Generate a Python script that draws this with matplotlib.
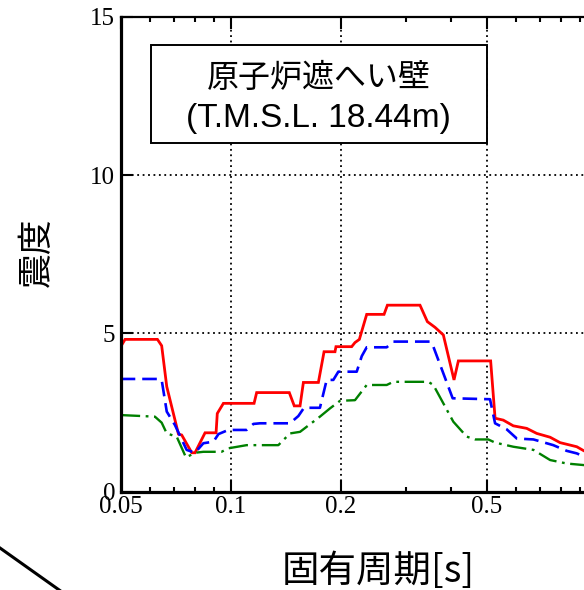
import matplotlib
matplotlib.use('Agg')
import matplotlib.pyplot as plt
from matplotlib.lines import Line2D
from matplotlib.patches import Rectangle
from matplotlib.ticker import FixedLocator, FixedFormatter, NullFormatter

plt.rcParams['lines.scale_dashes'] = False

# ---- data ----
period_red = [0.05, 0.0514, 0.0630, 0.0647, 0.0668, 0.0719, 0.0734, 0.0782, 0.0798, 0.0850,
              0.0911, 0.0918, 0.0954, 0.1157, 0.1176, 0.1444, 0.149, 0.1545, 0.1578, 0.1734,
              0.1797, 0.1925, 0.1937, 0.2138, 0.2183, 0.2244, 0.2350, 0.2621, 0.2677, 0.3286,
              0.3442, 0.3612, 0.3806, 0.4070, 0.4183, 0.5125, 0.527, 0.555, 0.591, 0.643,
              0.685, 0.745, 0.793, 0.881, 0.922, 1.0]
value_red = [4.58, 4.81, 4.81, 4.61, 3.32, 1.82, 1.79, 1.23, 1.23, 1.86,
             1.86, 2.47, 2.79, 2.79, 3.13, 3.13, 2.71, 2.71, 3.45, 3.45,
             4.42, 4.42, 4.58, 4.58, 4.71, 4.81, 5.60, 5.60, 5.89, 5.89,
             5.37, 5.19, 4.95, 3.53, 4.13, 4.13, 2.32, 2.26, 2.08, 2.00,
             1.84, 1.72, 1.55, 1.42, 1.29, 1.22]

period_blue = [0.05, 0.0630, 0.0647, 0.0668, 0.0703, 0.0757, 0.0798, 0.0841, 0.0896, 0.0925,
               0.0984, 0.1104, 0.1152, 0.1201, 0.1450, 0.1529, 0.1584, 0.1751, 0.1827, 0.1905,
               0.1966, 0.2207, 0.2278, 0.2350, 0.2665, 0.2779, 0.350, 0.3574, 0.4036, 0.5104,
               0.527, 0.567, 0.604, 0.671, 0.760, 0.827, 0.881, 0.922, 1.0]
value_blue = [3.56, 3.56, 3.53, 2.53, 2.11, 1.32, 1.23, 1.53, 1.58, 1.82,
              1.95, 1.95, 2.14, 2.16, 2.16, 2.39, 2.65, 2.65, 3.53, 3.53,
              3.79, 3.79, 4.28, 4.56, 4.56, 4.74, 4.74, 4.58, 2.95, 2.92,
              2.16, 1.97, 1.68, 1.65, 1.47, 1.29, 1.21, 1.11, 1.05]

period_green = [0.05, 0.0620, 0.0647, 0.0668, 0.0711, 0.0754, 0.0798, 0.0841, 0.0943, 0.0984,
                0.1104, 0.1348, 0.1450, 0.1545, 0.1751, 0.1865, 0.1987, 0.2183, 0.2350, 0.2665,
                0.2779, 0.3463, 0.3574, 0.4053, 0.4408, 0.4646, 0.505, 0.527, 0.591, 0.671,
                0.745, 0.827, 0.922, 1.0]
value_green = [2.42, 2.37, 2.18, 1.84, 1.74, 1.08, 1.23, 1.26, 1.26, 1.37,
               1.47, 1.47, 1.84, 1.89, 2.37, 2.63, 2.87, 2.89, 3.37, 3.37,
               3.47, 3.47, 3.37, 2.21, 1.74, 1.65, 1.65, 1.55, 1.42, 1.32,
               1.00, 0.89, 0.84, 0.80]

x_major = [0.05, 0.1, 0.2, 0.5, 1.0]
x_major_labels = ['0.05', '0.1', '0.2', '0.5', '']
x_minor = [0.06, 0.07, 0.08, 0.09, 0.3, 0.4, 0.6, 0.7, 0.8, 0.9]
y_major = [0, 5, 10, 15]
y_major_labels = ['0', '5', '10', '15']

title_line1 = '原子炉遮へい壁'
title_line2 = '(T.M.S.L. 18.44m)'
xlabel = '固有周期[s]'
ylabel = '震度'

# ---- figure ----
W, H = 584, 590
fig = plt.figure(figsize=(W / 100, H / 100), dpi=100)
ax = fig.add_axes([120.7 / W, 1 - 491.7 / H, 476.2 / W, 475.0 / H])

ax.plot(period_red, value_red, color='#ff0000', lw=2.0, solid_joinstyle='miter')
ax.plot(period_blue, value_blue, color='#0000ff', lw=1.9, dashes=(10.5, 5))
ax.plot(period_green, value_green, color='#008000', lw=1.7, dashes=(14, 4, 2, 4))

ax.set_xscale('log')
ax.set_xlim(0.05, 1.0)
ax.set_ylim(0, 15)

ax.xaxis.set_major_locator(FixedLocator(x_major))
ax.xaxis.set_major_formatter(FixedFormatter(x_major_labels))
ax.xaxis.set_minor_locator(FixedLocator(x_minor))
ax.xaxis.set_minor_formatter(NullFormatter())
ax.yaxis.set_major_locator(FixedLocator(y_major))
ax.yaxis.set_major_formatter(FixedFormatter(y_major_labels))

ax.grid(True, which='major', color='black', lw=1.3, linestyle=(0, (1.3, 2.6)))
ax.tick_params(which='both', direction='in', top=True, right=True, colors='black')
ax.tick_params(which='major', length=8.5, width=1.5)
ax.tick_params(which='minor', length=3.6, width=1.5)
ax.tick_params(axis='x', pad=3)
ax.tick_params(axis='y', pad=4)
for lab in ax.get_xticklabels() + ax.get_yticklabels():
    lab.set_fontfamily('Liberation Serif')
    lab.set_fontsize(18)

ax.spines['left'].set_linewidth(2.3)
ax.spines['bottom'].set_linewidth(2.3)
ax.spines['top'].set_linewidth(1.6)
ax.spines['right'].set_linewidth(1.6)

# title box
fig.patches.append(Rectangle((150.7 / W, 1 - 143 / H), 336 / W, 98 / H,
                             transform=fig.transFigure, facecolor='white',
                             edgecolor='black', lw=1.4, zorder=5))
fig.text(318.7 / W, 1 - 78 / H, title_line1, ha='center', va='center', fontsize=23,
         family=['Noto Sans CJK JP', 'DejaVu Sans'], zorder=6)
fig.text(318.7 / W, 1 - 119 / H, title_line2, ha='center', va='center', fontsize=24,
         family=['Liberation Sans', 'Noto Sans CJK JP'], zorder=6)

fig.text(378 / W, 1 - 572 / H, xlabel, ha='center', va='center', fontsize=27,
         family=['Noto Sans CJK JP', 'DejaVu Sans'])
fig.text(37 / W, 1 - 252 / H, ylabel, ha='center', va='center', fontsize=25,
         rotation=90, family=['Noto Sans CJK JP', 'DejaVu Sans'])

# stray diagonal stroke at lower left
fig.add_artist(Line2D([0 / W, 62 / W], [1 - 548 / H, 1 - 592 / H],
                      transform=fig.transFigure, color='black', lw=2.2))

fig.savefig('out.png', dpi=100)
